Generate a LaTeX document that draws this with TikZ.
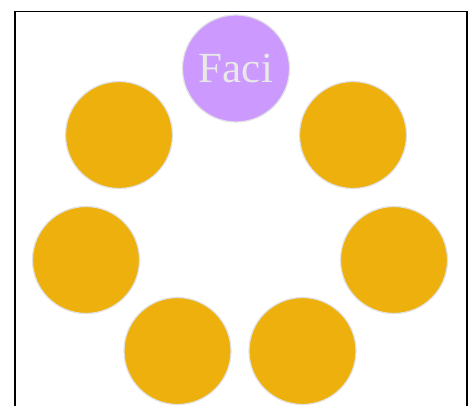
\documentclass[tikz,border=0pt]{standalone}
\usepackage{fontspec}
\setmainfont{Liberation Serif}
\definecolor{orangefill}{HTML}{EDB00C}
\definecolor{purplefill}{HTML}{CC99FF}
\definecolor{ringgray}{HTML}{E2E2E2}
\definecolor{textgray}{HTML}{E8E8E8}
\begin{document}
\begin{tikzpicture}[x=1pt,y=-1pt,
  member/.style={circle,draw=ringgray,line width=1.2pt,fill=orangefill,minimum size=107pt,inner sep=0pt},
  facil/.style={member,fill=purplefill,text=textgray,font=\fontsize{43}{43}\selectfont}]
\useasboundingbox (0,0) rectangle (471,405);
\draw[line width=1.5pt] (15,420) -- (15,11.5) -- (467,11.5) -- (467,420);
\node[facil] (faci) at (236,68.5) {Faci};
\node[member] (m1) at (119,135) {};
\node[member] (m2) at (353,135) {};
\node[member] (m3) at (86,260) {};
\node[member] (m4) at (394,260) {};
\node[member] (m5) at (177.5,351) {};
\node[member] (m6) at (302.5,351) {};
\end{tikzpicture}
\end{document}
